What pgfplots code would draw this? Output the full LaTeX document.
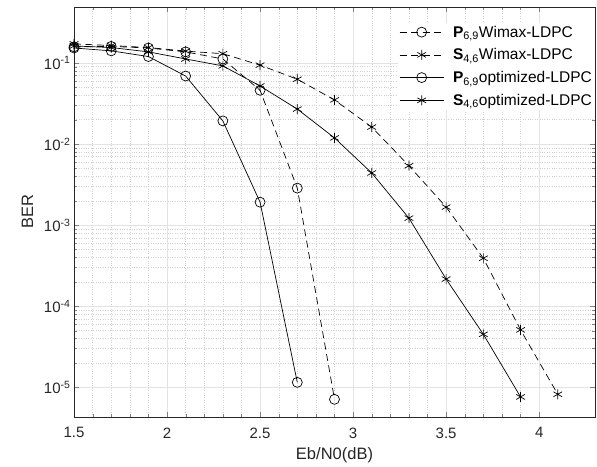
\documentclass[border=0pt]{standalone}
\usepackage{fontspec}
\setmainfont{Liberation Sans}
\usepackage{pgfplots}
\pgfplotsset{compat=1.18}

\begin{document}
\begin{tikzpicture}
\begin{axis}[
    scale only axis, width=521pt, height=410pt,
    ymode=log,
    xmin=1.5, xmax=4.3, ymin=4.3e-6, ymax=0.49,
    xtick={1.5,2,2.5,3,3.5,4},
    xticklabels={1.5,2,2.5,3,3.5,4},
    minor x tick num=4,
    ytick={1e-5,1e-4,1e-3,1e-2,1e-1},
    yticklabels={10\textsuperscript{-5},10\textsuperscript{-4},10\textsuperscript{-3},10\textsuperscript{-2},10\textsuperscript{-1}},
    tick label style={font=\fontsize{15}{18}\selectfont, black!85},
    xticklabel style={yshift=-7pt},
    label style={font=\fontsize{16.5}{19}\selectfont, black!85},
    xlabel={Eb/N0(dB)}, ylabel={BER},
    xlabel style={yshift=-3pt}, ylabel style={yshift=4pt},
    tick align=inside, major tick length=5pt, minor tick length=3pt,
    xmajorgrids, ymajorgrids, xminorgrids, yminorgrids,
    major grid style={gray!22, line width=0.6pt},
    minor grid style={gray!35, dotted, line width=0.35pt},
    axis line style={black!85, line width=0.6pt},
    legend style={at={(1,0.962)}, anchor=north east, draw=none, fill=white,
        font=\fontsize{15.5}{18}\selectfont, row sep=6pt, inner sep=1pt,
        /tikz/every odd column/.append style={column sep=7pt}},
    legend cell align=left,
    legend image code/.code={\draw[mark repeat=2,mark phase=2,#1] plot coordinates {(0pt,0pt) (22pt,0pt) (44pt,0pt)};},
    every axis plot/.append style={black, line width=0.7pt},
]
\addplot[dashed, dash pattern=on 7pt off 4.5pt, mark=o, mark size=5pt, mark options={solid}] coordinates {
    (1.5,0.158) (1.7,0.16) (1.9,0.153) (2.1,0.137) (2.3,0.112) (2.5,0.046) (2.7,0.00286) (2.9,7.1e-6)
};
\addlegendentry{\textbf{P}\textsubscript{6,9}Wimax-LDPC}
\addplot[dashed, dash pattern=on 7pt off 4.5pt, mark=asterisk, mark size=5pt, mark options={solid}] coordinates {
    (1.5,0.172) (1.7,0.164) (1.9,0.155) (2.1,0.14) (2.3,0.13) (2.5,0.094) (2.7,0.063) (2.9,0.035)
    (3.1,0.0162) (3.3,0.0054) (3.5,0.00167) (3.7,0.00039) (3.9,5.1e-5) (4.1,8.2e-6)
};
\addlegendentry{\textbf{S}\textsubscript{4,6}Wimax-LDPC}
\addplot[mark=o, mark size=5pt] coordinates {
    (1.5,0.153) (1.7,0.141) (1.9,0.12) (2.1,0.069) (2.3,0.0193) (2.5,0.00192) (2.7,1.15e-5)
};
\addlegendentry{\textbf{P}\textsubscript{6,9}optimized-LDPC}
\addplot[mark=asterisk, mark size=5pt] coordinates {
    (1.5,0.162) (1.7,0.155) (1.9,0.137) (2.1,0.112) (2.3,0.092) (2.5,0.052) (2.7,0.027) (2.9,0.0119)
    (3.1,0.0044) (3.3,0.00122) (3.5,0.000216) (3.7,4.5e-5) (3.9,7.6e-6)
};
\addlegendentry{\textbf{S}\textsubscript{4,6}optimized-LDPC}
\end{axis}
\pgfresetboundingbox
\path (current axis.south west)++(-74pt,-50pt) coordinate (bl);
\path (current axis.north east)++(2pt,7pt) coordinate (tr);
\path[use as bounding box] (bl) rectangle (tr);
\end{tikzpicture}
\end{document}
